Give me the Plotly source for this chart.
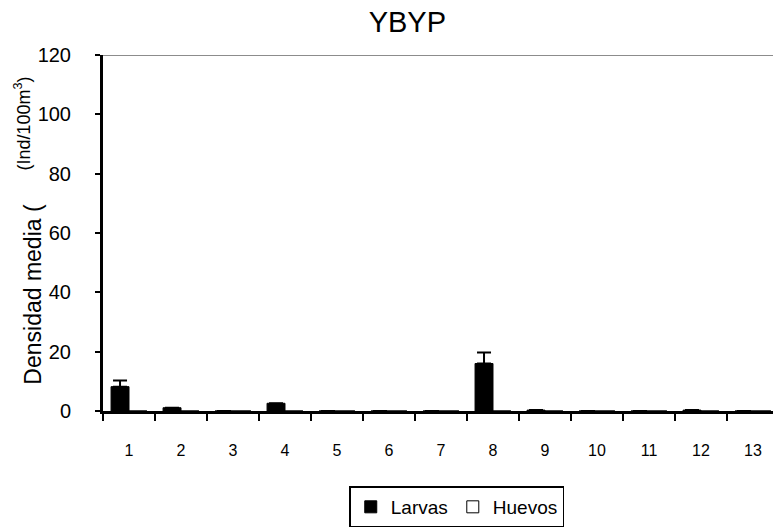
import plotly.graph_objects as go

# Sampling stations and mean densities (Ind/100m³)
stations = list(range(1, 14))
larvas = [8.2, 1.1, 0, 2.6, 0, 0, 0, 16.0, 0.3, 0, 0, 0.3, 0]
larvas_err = [2.1, 0, 0, 0, 0, 0, 0, 3.7, 0, 0, 0, 0, 0]
huevos = [0] * 13
y_ticks = [0, 20, 40, 60, 80, 100, 120]

FONT = "Liberation Sans"

fig = go.Figure()
fig.add_trace(go.Bar(
    x=stations, y=larvas, name="Larvas",
    marker=dict(color="black", line=dict(color="black", width=1)),
    error_y=dict(type="data", array=larvas_err, arrayminus=[0] * 13,
                 symmetric=False, color="black", thickness=2, width=7),
))
fig.add_trace(go.Bar(
    x=stations, y=huevos, name="Huevos",
    marker=dict(color="white", line=dict(color="black", width=1)),
))

fig.update_layout(
    width=773, height=528,
    margin=dict(l=103, r=0, t=55, b=115),
    paper_bgcolor="white", plot_bgcolor="white",
    barmode="group", bargap=0.31, bargroupgap=0,
    font=dict(family=FONT, size=15, color="black"),
    title=dict(text="YBYP", x=0.527, xanchor="center", y=0.958, yanchor="middle",
               font=dict(family=FONT, size=29, color="black")),
    showlegend=True,
    legend=dict(orientation="h", x=0.528, xanchor="center", y=-0.212, yanchor="top",
                bordercolor="black", borderwidth=1.5, bgcolor="white",
                font=dict(family=FONT, size=19), itemwidth=30,
                tracegroupgap=0),
)

fig.update_xaxes(
    range=[0.5, 13.385],
    tickmode="array", tickvals=stations, ticktext=[str(s) for s in stations],
    ticks="", ticklabelstandoff=23,
    showline=True, linecolor="black", linewidth=3,
    showgrid=False, zeroline=False,
    tickfont=dict(family=FONT, size=16),
    minor=dict(tickmode="array", tickvals=[s + 0.5 for s in range(0, 14)],
               ticks="outside", ticklen=7, tickwidth=2, tickcolor="black",
               showgrid=False),
)
fig.update_yaxes(
    range=[0, 120],
    tickmode="array", tickvals=y_ticks, ticktext=[str(v) for v in y_ticks],
    ticks="outside", ticklen=5, tickwidth=2, tickcolor="black",
    ticklabelstandoff=20,
    showline=True, linecolor="black", linewidth=3,
    showgrid=False, zeroline=False,
    tickfont=dict(family=FONT, size=20),
)

# light rule along the top of the plotting area
fig.add_shape(type="line", xref="paper", yref="y", x0=0, x1=1, y0=120, y1=120,
              line=dict(color="#8c8c8c", width=2), layer="above")

# two-part vertical axis title
fig.add_annotation(text="Densidad media (", xref="paper", yref="paper",
                   x=(33 - 103) / 670, y=(413 - 296) / 358,
                   xanchor="center", yanchor="middle", textangle=-90,
                   showarrow=False, font=dict(family=FONT, size=23))
fig.add_annotation(text="(Ind/100m<sup>3</sup>)", xref="paper", yref="paper",
                   x=(23 - 103) / 670, y=(413 - 124) / 358,
                   xanchor="center", yanchor="middle", textangle=-90,
                   showarrow=False, font=dict(family=FONT, size=18))

fig.write_html("out.html")
